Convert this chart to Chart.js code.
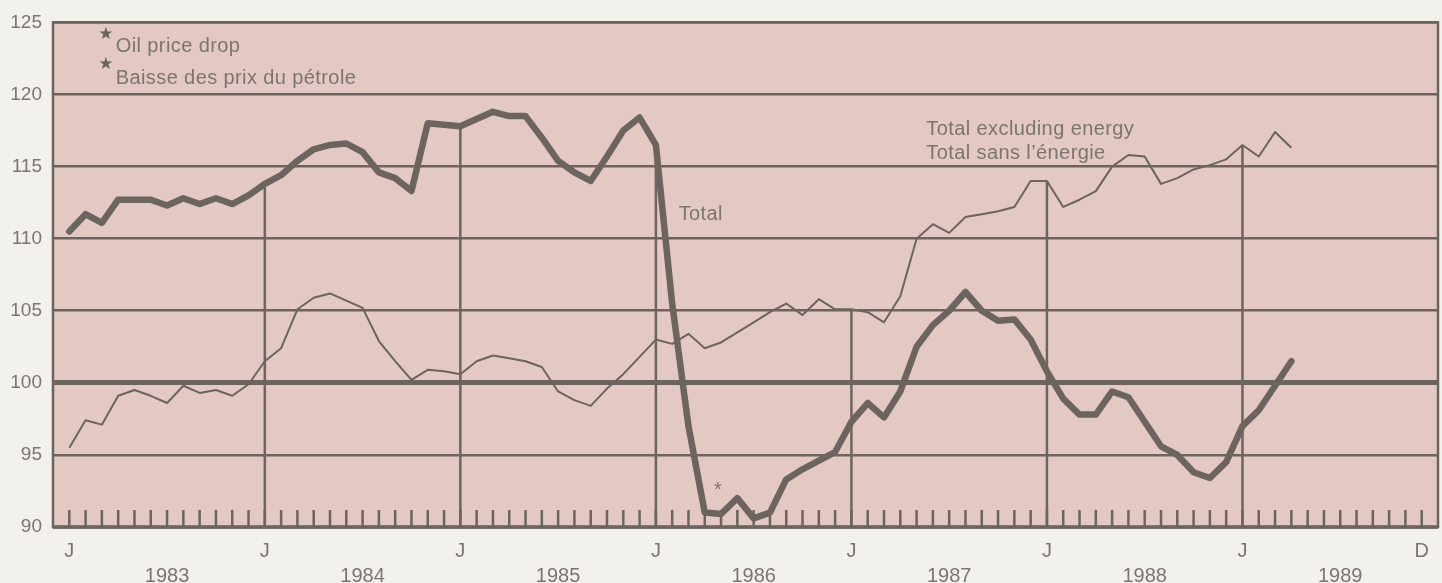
<!DOCTYPE html>
<html lang="en">
<head>
<meta charset="UTF-8">
<title>Total and total excluding energy, 1983-1989</title>
<script src="https://cdn.jsdelivr.net/npm/chart.js"></script>
<style>
  html, body { margin: 0; padding: 0; background: #f2f1ec; }
  .chart-box { width: 1442px; height: 583px; position: relative; }
</style>
</head>
<body>
<div class="chart-box"><canvas id="chart"></canvas></div>
<script>
// monthly index, Jan 1983 = 0 ... Dec 1989 = 83
const total = [
  110.5, 111.7, 111.1, 112.7, 112.7, 112.7, 112.3, 112.8, 112.4, 112.8, 112.4, 113.0, // 1983
  113.8, 114.4, 115.4, 116.2, 116.5, 116.6, 116.0, 114.6, 114.2, 113.3, 118.0, 117.9, // 1984
  117.8, 118.3, 118.8, 118.5, 118.5, 117.0, 115.4, 114.6, 114.0, 115.7, 117.5, 118.4, // 1985
  116.5, 105.5, 97.0, 91.0, 90.9, 92.0, 90.6, 91.0, 93.3, 94.0, 94.6, 95.2,           // 1986
  97.3, 98.6, 97.6, 99.4, 102.5, 104.0, 105.0, 106.3, 105.0, 104.3, 104.4, 103.0,     // 1987
  100.8, 98.9, 97.8, 97.8, 99.4, 99.0, 97.3, 95.6, 95.0, 93.8, 93.4, 94.5,            // 1988
  97.0, 98.1, 99.8, 101.5                                                              // 1989
];
const exEnergy = [
  95.5, 97.4, 97.1, 99.1, 99.5, 99.1, 98.6, 99.8, 99.3, 99.5, 99.1, 99.9,             // 1983
  101.5, 102.4, 105.1, 105.9, 106.2, 105.7, 105.2, 102.9, 101.5, 100.2, 100.9, 100.8, // 1984
  100.6, 101.5, 101.9, 101.7, 101.5, 101.1, 99.4, 98.8, 98.4, 99.6, 100.6, 101.8,     // 1985
  103.0, 102.7, 103.4, 102.4, 102.8, 103.5, 104.2, 104.9, 105.5, 104.7, 105.8, 105.1, // 1986
  105.1, 104.9, 104.2, 106.0, 110.0, 111.0, 110.4, 111.5, 111.7, 111.9, 112.2, 114.0, // 1987
  114.0, 112.2, 112.7, 113.3, 115.0, 115.8, 115.7, 113.8, 114.2, 114.8, 115.1, 115.5, // 1988
  116.5, 115.7, 117.4, 116.3                                                           // 1989
];
const yearLabels = ['1983', '1984', '1985', '1986', '1987', '1988', '1989'];
const janTicks = [0, 12, 24, 36, 48, 60, 72];
const midYear = [6, 18, 30, 42, 54, 66, 78];
const lastMonth = 83;

const ink = 'rgb(108, 100, 94)';
const textColor = 'rgb(124, 117, 111)';
const plotBg = '#e3c8c3';
const fontFamily = '"Liberation Sans", Arial, sans-serif';

// text placed in data units (month index, index value)
const notes = [
  { text: 'Oil price drop', x: 2.85, y: 122.95 },
  { text: 'Baisse des prix du pétrole', x: 2.85, y: 120.75 },
  { text: 'Total', x: 37.4, y: 111.3 },
  { text: 'Total excluding energy', x: 52.6, y: 117.2 },
  { text: 'Total sans l\u2019énergie', x: 52.6, y: 115.55 }
];
const stars = [
  { x: 2.25, y: 124.15, glyph: '\u2605', size: 17 },
  { x: 2.25, y: 122.05, glyph: '\u2605', size: 17 },
  { x: 39.8, y: 92.9, glyph: '*', size: 20 }
];

const decorPlugin = {
  id: 'decor',
  beforeDraw(chart) {
    const { ctx, chartArea: a } = chart;
    ctx.save();
    ctx.fillStyle = plotBg;
    ctx.fillRect(a.left, a.top, a.right - a.left, a.bottom - a.top);
    ctx.restore();
  },
  beforeDatasetsDraw(chart) {
    const { ctx, chartArea: a, scales } = chart;
    const x = scales.x, y = scales.y;
    ctx.save();
    ctx.strokeStyle = ink;
    // small month ticks along the bottom
    ctx.lineWidth = 2.5;
    for (let m = 0; m <= lastMonth; m++) {
      const px = x.getPixelForValue(m);
      ctx.beginPath();
      ctx.moveTo(px, a.bottom);
      ctx.lineTo(px, a.bottom - 17);
      ctx.stroke();
    }
    // January drop lines up to the higher of the two series
    janTicks.slice(1).forEach(m => {
      const top = Math.max(total[m] ?? 0, exEnergy[m] ?? 0);
      const px = x.getPixelForValue(m);
      ctx.beginPath();
      ctx.moveTo(px, a.bottom);
      ctx.lineTo(px, y.getPixelForValue(top));
      ctx.stroke();
    });
    // frame
    ctx.lineWidth = 2.5;
    ctx.strokeRect(a.left, a.top, a.right - a.left, a.bottom - a.top);
    ctx.lineWidth = 3.5;
    ctx.beginPath();
    ctx.moveTo(a.left, a.bottom);
    ctx.lineTo(a.right, a.bottom);
    ctx.stroke();
    ctx.restore();
  },
  afterDatasetsDraw(chart) {
    const { ctx, scales } = chart;
    const x = scales.x, y = scales.y;
    ctx.save();
    ctx.fillStyle = textColor;
    ctx.textAlign = 'left';
    ctx.textBaseline = 'alphabetic';
    ctx.font = '20px ' + fontFamily;
    ctx.letterSpacing = '0.4px';
    notes.forEach(n => ctx.fillText(n.text, x.getPixelForValue(n.x), y.getPixelForValue(n.y)));
    ctx.letterSpacing = '0px';
    ctx.textAlign = 'center';
    ctx.textBaseline = 'middle';
    stars.forEach(s => {
      ctx.fillStyle = s.glyph === '*' ? textColor : ink;
      ctx.font = s.size + 'px ' + (s.glyph === '*' ? fontFamily : '"DejaVu Sans"');
      const dy = s.glyph === '*' ? s.size * 0.26 : 0;
      ctx.fillText(s.glyph, x.getPixelForValue(s.x), y.getPixelForValue(s.y) + dy);
    });
    ctx.restore();
  }
};

const points = arr => arr.map((v, i) => ({ x: i, y: v }));

// bottom axis: "J" on the first line at each January, year on the second line mid-year
function bottomLabel(v) {
  if (v === lastMonth) return ['D', ''];
  if (janTicks.includes(v)) return ['J', ''];
  const k = midYear.indexOf(v);
  return k >= 0 ? ['', yearLabels[k]] : '';
}

new Chart(document.getElementById('chart'), {
  type: 'line',
  data: {
    datasets: [
      {
        label: 'Total',
        data: points(total),
        borderColor: ink,
        borderWidth: 6.5,
        pointRadius: 0,
        borderJoinStyle: 'round',
        borderCapStyle: 'round',
        tension: 0
      },
      {
        label: 'Total excluding energy',
        data: points(exEnergy),
        borderColor: ink,
        borderWidth: 2,
        pointRadius: 0,
        borderJoinStyle: 'round',
        tension: 0
      }
    ]
  },
  options: {
    responsive: true,
    maintainAspectRatio: false,
    animation: false,
    layout: { padding: { top: 20, right: 4, left: 0, bottom: 0 } },
    plugins: { legend: { display: false }, tooltip: { enabled: false } },
    scales: {
      x: {
        type: 'linear', min: -1, max: 84, position: 'bottom',
        grid: { display: false }, border: { display: false },
        afterBuildTicks: s => {
          s.ticks = janTicks.concat(midYear, [lastMonth]).sort((a, b) => a - b).map(v => ({ value: v }));
        },
        afterFit: s => { s.height = 56; },
        ticks: {
          autoSkip: false, maxRotation: 0, padding: 4, color: textColor,
          font: { family: fontFamily, size: 20, lineHeight: 1.25 },
          callback: bottomLabel
        }
      },
      y: {
        min: 90, max: 125,
        afterFit: s => { s.width = 53; },
        border: { display: false },
        grid: {
          color: ink,
          lineWidth: c => c.tick.value === 100 ? 5 : 2.5,
          drawTicks: false
        },
        ticks: {
          stepSize: 5, padding: 11, color: textColor,
          font: { family: fontFamily, size: 19 }
        }
      }
    }
  },
  plugins: [decorPlugin]
});
</script>
</body>
</html>
